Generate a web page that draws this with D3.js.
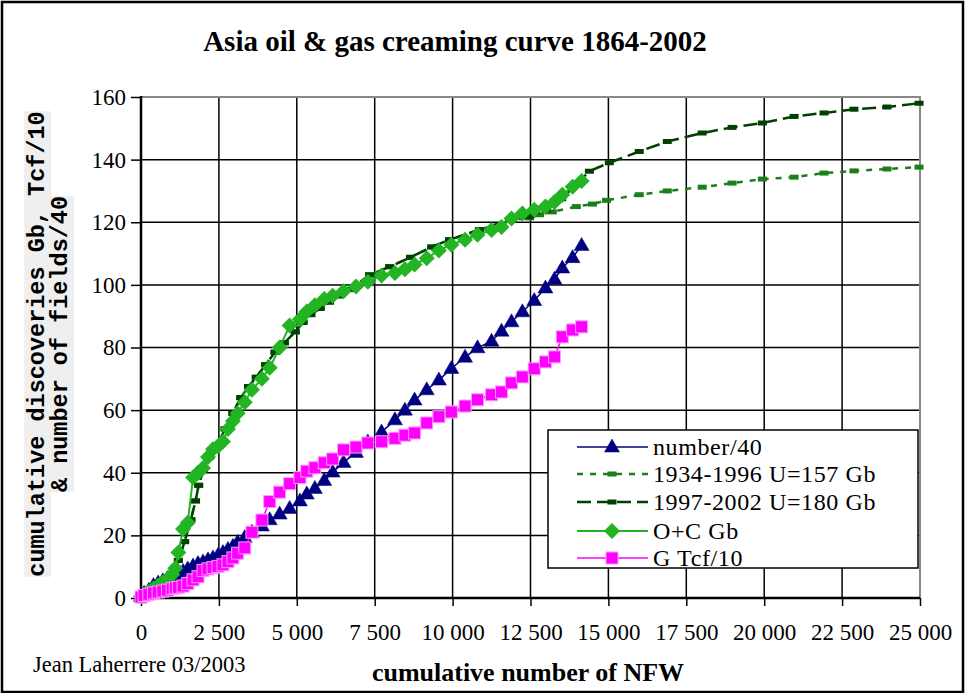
<!DOCTYPE html>
<html>
<head>
<meta charset="utf-8">
<script src="https://cdn.jsdelivr.net/npm/d3@7"></script>
<style>
  body { margin: 0; background: #fff; }
  svg { display: block; }
  text { font-family: "Liberation Serif", "Times New Roman", serif; fill: #000; }
</style>
</head>
<body>
<svg id="chart"></svg>
<script>
// cumulative number of NFW (shared by the three data series)
const nfw = [0, 100, 250, 400, 550, 700, 850, 1000, 1100, 1200, 1350, 1500, 1670, 1830, 1990, 2150, 2310, 2470, 2630, 2790,
  2950, 3100, 3330, 3560, 3880, 4130, 4450, 4770, 5100, 5320, 5580, 5880, 6150, 6500, 6900, 7280, 7720, 8150, 8470, 8780,
  9170, 9560, 9960, 10400, 10800, 11250, 11570, 11890, 12240, 12620, 12980, 13270, 13520, 13850, 14140];

const number40 = [0.5, 1.5, 2.5, 4, 4.8, 5.5, 6.2, 7, 7.5, 7.8, 8.5, 9.3, 10.2, 11, 11.5, 12.2, 12.8, 13.6, 14.5, 15.5,
  16.5, 17.8, 19.3, 21, 23, 25, 26.8, 28.6, 31, 33.2, 35, 37.5, 40.2, 43.3, 46.5, 49.8, 53, 56.9, 60, 63.2,
  66.5, 69.6, 73.3, 76.9, 79.9, 82, 85.2, 88.2, 91.4, 95, 99, 101.8, 105.4, 108.7, 112.6];

const ocGb = [0.5, 1, 2, 3, 4, 5, 6, 7.5, 9.5, 14.5, 22, 24, 38.5, 40, 41.5, 45, 47.5, 48.5, 50, 54,
  56.5, 59, 62.5, 66.5, 70, 73.5, 80, 87, 89, 91.5, 93.5, 95.5, 96.5, 98, 99.5, 101, 103, 103.8, 105, 106.5,
  108.5, 111, 112.8, 114.4, 116, 117.5, 118.5, 121.2, 122.8, 124, 125, 126.5, 128.8, 131.3, 133.2];

const gTcf10 = [0.3, 0.8, 1.2, 1.6, 1.9, 2.2, 2.5, 3, 3.2, 3.4, 3.8, 4.6, 5.8, 6.8, 8.8, 9.3, 9.7, 10.1, 10.6, 11.6,
  12.8, 14.3, 16, 21, 24.9, 30.8, 33.8, 36.5, 38.5, 40.5, 41.6, 43.2, 44.4, 47.3, 48.2, 49.5, 49.9, 51, 52, 52.7,
  55.9, 57.9, 59.4, 61.3, 63.3, 64.9, 65.8, 68.7, 70.6, 73.2, 75.4, 77, 83.4, 85.6, 86.6];

// model 1934-1996 U=157 Gb
const m1934X = [0, 400, 800, 1000, 1200, 1400, 1600, 1750, 1850, 2000, 2200, 2450, 2700, 2950, 3200, 3450, 3700, 4000, 4300, 4600,
  4950, 5200, 5450, 5750, 6050, 6350, 6700, 7340, 7980, 8650, 9330, 9900, 10860, 11830, 12470, 12790, 13200, 13970, 14490, 14940,
  15990, 16890, 18010, 18970, 19940, 20960, 21920, 22880, 23940, 24970];
const m1934Y = [0, 2, 4, 6, 12, 18, 25, 31, 36, 41, 45, 49, 54, 59, 64, 67.5, 70.5, 74.5, 78.5, 81.5,
  85, 88, 90.5, 92.5, 94.5, 96.5, 98.5, 103.2, 105.8, 108.8, 112.1, 114.4, 117.6, 120.6, 121.4, 122.4, 123.3, 125, 125.8, 127,
  128.8, 130, 131.2, 132.5, 133.8, 134.4, 135.7, 136.4, 137, 137.6];

// model 1997-2002 U=180 Gb
const m1997X = [0, 400, 800, 1000, 1200, 1400, 1600, 1750, 1850, 2000, 2200, 2450, 2700, 2950, 3200, 3450, 3700, 4000, 4300, 4600,
  4950, 5200, 5450, 5750, 6050, 6350, 6700, 7340, 7980, 8650, 9330, 9900, 10860, 11830, 12470, 13000, 13500, 13950, 14390, 15030,
  15990, 16890, 18010, 18970, 19940, 20960, 21920, 22880, 23940, 24970];
const m1997Y = [0, 2, 4, 6, 12, 18, 25, 31, 36, 41, 45, 49, 54, 59, 64, 67.5, 70.5, 74.5, 78.5, 81.5,
  85, 88, 90.5, 92.5, 94.5, 96.5, 98.5, 103.2, 105.8, 108.8, 112.1, 114.4, 117.6, 120.8, 121.8, 124, 127.5, 132, 136.3, 139,
  142.6, 145.8, 148.5, 150.3, 151.7, 153.8, 154.9, 156.1, 156.8, 158];

const xTicks = [0, 2500, 5000, 7500, 10000, 12500, 15000, 17500, 20000, 22500, 25000];
const yTicks = [0, 20, 40, 60, 80, 100, 120, 140, 160];
const legendLabels = ['number/40', '1934-1996 U=157 Gb', '1997-2002 U=180 Gb', 'O+C Gb', 'G Tcf/10'];

const W = 965, H = 693;
const margin = { top: 97, right: 45, bottom: 95, left: 141 };

const svg = d3.select('#chart').attr('width', W).attr('height', H);

// outer frame
svg.append('rect')
  .attr('x', 2).attr('y', 2).attr('width', W - 4).attr('height', H - 3)
  .attr('fill', '#fff').attr('stroke', '#000').attr('stroke-width', 2.5);

const x = d3.scaleLinear().domain([0, 25000]).range([margin.left, W - margin.right]);
const y = d3.scaleLinear().domain([0, 160]).range([H - margin.bottom, margin.top]);
const y0 = y(0);

const fmt = d3.formatLocale({ decimal: '.', thousands: ' ', grouping: [3], currency: ['', ''] }).format(',');

// grid
const grid = svg.append('g');
grid.selectAll('line.v').data(xTicks.slice(1, -1)).join('line')
  .attr('x1', (d) => x(d)).attr('x2', (d) => x(d))
  .attr('y1', y(160)).attr('y2', y0)
  .attr('stroke', '#000').attr('stroke-width', 1.5);
grid.selectAll('line.h').data(yTicks.slice(1, -1)).join('line')
  .attr('x1', x(0)).attr('x2', x(25000))
  .attr('y1', (d) => y(d)).attr('y2', (d) => y(d))
  .attr('stroke', '#000').attr('stroke-width', 1.5);

// plot border (gray top / right)
svg.append('path')
  .attr('d', `M${x(0)},${y(160)}H${x(25000)}V${y0}`)
  .attr('fill', 'none').attr('stroke', '#888').attr('stroke-width', 2);

// axes
const xAxis = svg.append('g')
  .attr('transform', `translate(0,${y0})`)
  .call(d3.axisBottom(x).tickValues(xTicks).tickFormat(fmt).tickSize(8).tickPadding(18));
xAxis.select('.domain').remove();
xAxis.selectAll('line').attr('stroke', '#000').attr('stroke-width', 1.5);
xAxis.selectAll('text').style('font-family', '"Liberation Serif", serif').style('font-size', '23px').attr('fill', '#000');

const yAxis = svg.append('g')
  .attr('transform', `translate(${x(0)},0)`)
  .call(d3.axisLeft(y).tickValues(yTicks).tickSize(10).tickPadding(5));
yAxis.select('.domain').remove();
yAxis.selectAll('line').attr('stroke', '#000').attr('stroke-width', 1.5);
yAxis.selectAll('text').style('font-family', '"Liberation Serif", serif').style('font-size', '23px').attr('fill', '#000');

svg.append('line').attr('x1', x(0)).attr('x2', x(0)).attr('y1', y(160) - 1).attr('y2', y0 + 1)
  .attr('stroke', '#000').attr('stroke-width', 2.5);
svg.append('line').attr('x1', x(0) - 1).attr('x2', x(25000)).attr('y1', y0).attr('y2', y0)
  .attr('stroke', '#000').attr('stroke-width', 2.5);

// series
const line = d3.line().x((d) => x(d[0])).y((d) => y(d[1]));
const zip = (xs, ys) => xs.map((v, i) => [v, ys[i]]);

const series = [
  { name: legendLabels[0], data: zip(nfw, number40), color: '#000080', dash: null, width: 1.5, marker: 'triangle' },
  { name: legendLabels[1], data: zip(m1934X, m1934Y), color: '#1b7f1b', dash: '6,7', width: 2.5, marker: 'dash' },
  { name: legendLabels[2], data: zip(m1997X, m1997Y), color: '#004000', dash: '14,6', width: 2.5, marker: 'dash' },
  { name: legendLabels[3], data: zip(nfw, ocGb), color: '#22b422', dash: null, width: 2, marker: 'diamond' },
  { name: legendLabels[4], data: zip(nfw, gTcf10), color: '#ff00ff', dash: null, width: 1.5, marker: 'square' },
];

function drawMarker(g, type, color) {
  if (type === 'triangle') {
    g.append('path').attr('d', 'M0,-8L7.5,5L-7.5,5Z').attr('fill', color).attr('stroke', color).attr('stroke-width', 0.5);
  } else if (type === 'diamond') {
    g.append('path').attr('d', 'M0,-8L8,0L0,8L-8,0Z').attr('fill', color);
  } else if (type === 'square') {
    g.append('rect').attr('x', -6).attr('y', -6).attr('width', 12).attr('height', 12)
      .attr('fill', color).attr('stroke', '#ff99ff').attr('stroke-width', 1);
  } else if (type === 'dash') {
    g.append('rect').attr('x', -4.5).attr('y', -2.5).attr('width', 9).attr('height', 5).attr('fill', color);
  }
}

series.forEach((s) => {
  const g = svg.append('g');
  g.append('path')
    .datum(s.data)
    .attr('fill', 'none')
    .attr('stroke', s.color)
    .attr('stroke-width', s.width)
    .attr('stroke-dasharray', s.dash)
    .attr('d', line);
  g.selectAll('g.m').data(s.data).join('g')
    .attr('transform', (d) => `translate(${x(d[0])},${y(d[1])})`)
    .each(function () { drawMarker(d3.select(this), s.marker, s.color); });
});

// legend
const lg = svg.append('g');
lg.append('rect')
  .attr('x', 548).attr('y', 430).attr('width', 370).attr('height', 138)
  .attr('fill', '#fff').attr('stroke', '#000').attr('stroke-width', 1.5);
const rowY = [447, 474, 502, 531, 558];
series.forEach((s, i) => {
  lg.append('line')
    .attr('x1', 577).attr('x2', 648).attr('y1', rowY[i]).attr('y2', rowY[i])
    .attr('stroke', s.color).attr('stroke-width', s.width)
    .attr('stroke-dasharray', s.dash);
  drawMarker(lg.append('g').attr('transform', `translate(612,${rowY[i]})`), s.marker, s.color);
  lg.append('text')
    .attr('x', 653).attr('y', rowY[i]).attr('dy', '0.35em')
    .style('font-size', '24px')
    .style('letter-spacing', '0.6px')
    .text(s.name);
});

// title
svg.append('text')
  .attr('x', 455).attr('y', 51)
  .attr('text-anchor', 'middle')
  .style('font-size', '29px').style('font-weight', 'bold')
  .text('Asia oil & gas creaming curve 1864-2002');

// x title
svg.append('text')
  .attr('x', 528).attr('y', 681)
  .attr('text-anchor', 'middle')
  .style('font-size', '26px').style('font-weight', 'bold')
  .text('cumulative number of NFW');

svg.append('text')
  .attr('x', 33).attr('y', 672)
  .style('font-size', '22.5px')
  .text('Jean Laherrere 03/2003');

// y title (two lines, mono bold on gray)
const yt = svg.append('g').attr('transform', 'translate(0,344) rotate(-90)');
[['cumulative discoveries Gb, Tcf/10', 36], ['& number of fields/40', 59]].forEach(([t, cx]) => {
  const txt = yt.append('text')
    .attr('x', 0).attr('y', cx).attr('dy', '0.35em')
    .attr('text-anchor', 'middle')
    .style('font-family', '"Liberation Mono", "Courier New", monospace')
    .style('font-weight', 'bold').style('font-size', '23.5px')
    .text(t);
  const bb = txt.node().getBBox();
  yt.insert('rect', 'text')
    .attr('x', bb.x).attr('y', bb.y).attr('width', bb.width).attr('height', bb.height)
    .attr('fill', '#efefef');
});
</script>
</body>
</html>
